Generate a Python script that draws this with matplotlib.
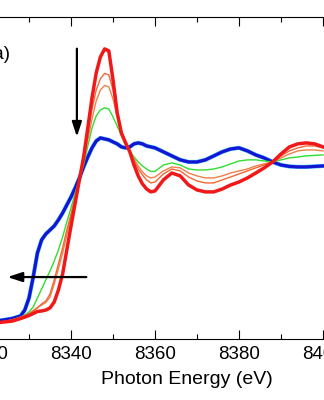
import matplotlib
matplotlib.use("Agg")
import matplotlib.pyplot as plt
from matplotlib.ticker import MultipleLocator

plt.rcParams['font.family'] = ['Liberation Sans', 'DejaVu Sans']

# photon energy grid (eV)
energy = [8320, 8322, 8324, 8326,
          8328, 8329, 8330, 8331, 8332, 8333, 8334, 8335, 8336, 8337, 8338, 8339,
          8340, 8341, 8342, 8343, 8344, 8345, 8346, 8347, 8348, 8349, 8350, 8351,
          8352, 8353, 8354, 8355, 8356, 8357, 8358, 8359, 8360,
          8362, 8364, 8366, 8368, 8370, 8372, 8374, 8376, 8378, 8380,
          8382, 8384, 8386, 8388, 8390, 8392, 8394, 8396, 8398, 8400]

# normalized absorption
mu_blue = [0.000, 0.006, 0.013, 0.022,
           0.038, 0.075, 0.150, 0.281, 0.431, 0.513, 0.550, 0.575, 0.600, 0.638, 0.681, 0.731,
           0.781, 0.838, 0.900, 0.969, 1.031, 1.088, 1.131, 1.150, 1.144, 1.138, 1.125, 1.113,
           1.094, 1.088, 1.094, 1.113, 1.119, 1.113, 1.100, 1.094, 1.088,
           1.063, 1.038, 1.013, 1.000, 1.000, 1.013, 1.038, 1.063, 1.081, 1.088,
           1.069, 1.044, 1.025, 1.000, 0.981, 0.972, 0.969, 0.969, 0.972, 0.975]

mu_green = [-0.006, -0.003, 0.003, 0.013,
            0.031, 0.044, 0.063, 0.094, 0.150, 0.206, 0.263, 0.319, 0.381, 0.450, 0.531, 0.625,
            0.713, 0.806, 0.894, 0.981, 1.100, 1.213, 1.288, 1.325, 1.338, 1.331, 1.281, 1.225,
            1.163, 1.106, 1.069, 1.031, 1.000, 0.975, 0.956, 0.941, 0.941,
            0.981, 0.994, 0.981, 0.956, 0.950, 0.950, 0.956, 0.969, 0.988, 1.006,
            1.013, 1.013, 1.006, 1.000, 1.013, 1.025, 1.031, 1.038, 1.041, 1.044]

mu_orange2 = [-0.006, -0.003, 0.003, 0.013,
              0.031, 0.041, 0.053, 0.072, 0.091, 0.106, 0.122, 0.156, 0.238, 0.331, 0.431, 0.544,
              0.663, 0.775, 0.888, 1.000, 1.138, 1.269, 1.381, 1.450, 1.478, 1.469, 1.394, 1.281,
              1.188, 1.119, 1.069, 1.019, 0.975, 0.938, 0.913, 0.900, 0.906,
              0.944, 0.969, 0.963, 0.931, 0.913, 0.900, 0.900, 0.913, 0.931, 0.944,
              0.956, 0.975, 0.988, 1.000, 1.025, 1.050, 1.069, 1.075, 1.075, 1.069]

mu_orange1 = [-0.006, -0.003, 0.003, 0.013,
              0.028, 0.038, 0.050, 0.069, 0.088, 0.113, 0.131, 0.175, 0.263, 0.363, 0.463, 0.575,
              0.675, 0.781, 0.888, 1.013, 1.181, 1.331, 1.450, 1.519, 1.553, 1.544, 1.450, 1.294,
              1.194, 1.119, 1.063, 1.006, 0.956, 0.919, 0.888, 0.869, 0.875,
              0.925, 0.956, 0.944, 0.906, 0.881, 0.869, 0.869, 0.888, 0.906, 0.925,
              0.944, 0.963, 0.981, 1.000, 1.038, 1.069, 1.088, 1.100, 1.100, 1.088]

mu_red = [-0.009, -0.006, 0.000, 0.006,
          0.022, 0.031, 0.041, 0.053, 0.066, 0.069, 0.075, 0.088, 0.125, 0.200, 0.300, 0.450,
          0.600, 0.744, 0.888, 1.031, 1.213, 1.400, 1.556, 1.656, 1.706, 1.694, 1.513, 1.306,
          1.181, 1.119, 1.063, 0.981, 0.913, 0.863, 0.831, 0.813, 0.819,
          0.888, 0.931, 0.913, 0.856, 0.825, 0.813, 0.813, 0.831, 0.856, 0.875,
          0.900, 0.931, 0.963, 1.000, 1.050, 1.094, 1.113, 1.119, 1.113, 1.094]

fig = plt.figure(figsize=(3.24, 4.00), dpi=100)
ax = fig.add_axes([-0.0401, 0.1525, 1.1667, 0.806])

ax.plot(energy, mu_blue, color='#40c0ff', lw=3.0)
ax.plot(energy, mu_blue, color='#1414d2', lw=2.3)
ax.plot(energy, mu_green, color='#30dd30', lw=1.0)
ax.plot(energy, mu_orange2, color='#f08048', lw=1.0)
ax.plot(energy, mu_orange1, color='#f06838', lw=1.0)
ax.plot(energy, mu_red, color='#f01818', lw=2.5)

# arrows showing the change with time
ax.annotate('', xy=(8341.4, 1.14), xytext=(8341.4, 1.725),
            arrowprops=dict(arrowstyle='-|>,head_length=0.55,head_width=0.18',
                            color='k', lw=1.6, mutation_scale=16))
ax.annotate('', xy=(8324.2, 0.281), xytext=(8344.3, 0.281),
            arrowprops=dict(arrowstyle='-|>,head_length=0.55,head_width=0.18',
                            color='k', lw=1.6, mutation_scale=16))

ax.text(8325.6, 1.669, '(a)', ha='right', va='center', fontsize=13.5)

ax.set_xlim(8320, 8410)
ax.set_ylim(-0.106, 1.908)
ax.xaxis.set_major_locator(MultipleLocator(20))
ax.xaxis.set_minor_locator(MultipleLocator(10))
ax.tick_params(axis='x', which='both', direction='in', top=True, labelsize=13.5, pad=5)
ax.tick_params(axis='x', which='major', length=6.5, width=0.8)
ax.tick_params(axis='x', which='minor', length=3.3, width=0.8)
ax.set_yticks([])
ax.set_xlabel('Photon Energy (eV)', fontsize=14)
ax.xaxis.set_label_coords(0.529, -0.10)

fig.savefig('out.png', dpi=100)
